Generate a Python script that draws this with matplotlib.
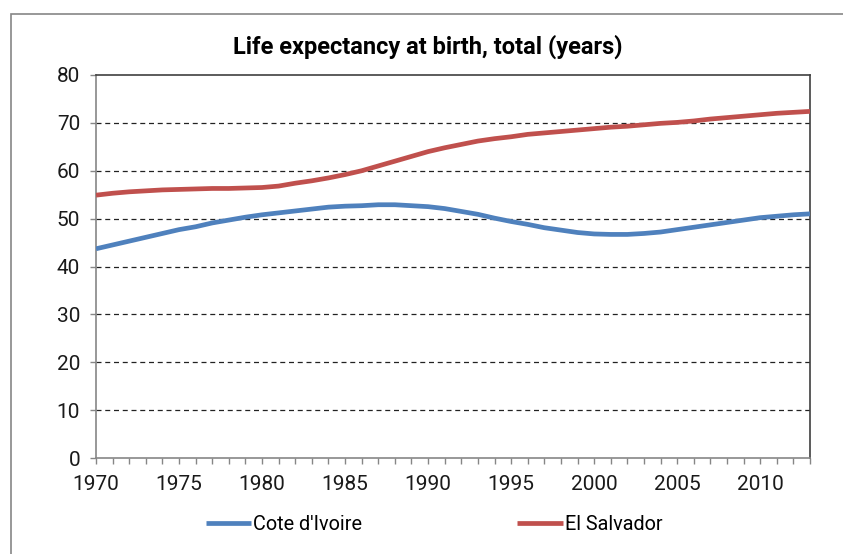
import numpy as np
import matplotlib
matplotlib.use("Agg")
import matplotlib.pyplot as plt
import matplotlib.ticker as ticker
from matplotlib.patches import Rectangle

# ── data ─────────────────────────────────────────────────────────────────────
years = list(range(1970, 2014))

cote_divoire = [
    43.7, 44.5, 45.3, 46.1, 46.9, 47.7, 48.3, 49.1, 49.7, 50.3,
    50.8, 51.2, 51.6, 52.0, 52.4, 52.6, 52.7, 52.9, 52.9, 52.7,
    52.5, 52.1, 51.5, 50.9, 50.1, 49.4, 48.8, 48.1, 47.6, 47.1,
    46.8, 46.7, 46.7, 46.9, 47.2, 47.7, 48.2, 48.7, 49.2, 49.7,
    50.2, 50.5, 50.8, 51.0,
]

el_salvador = [
    54.9, 55.3, 55.6, 55.8, 56.0, 56.1, 56.2, 56.3, 56.3, 56.4,
    56.5, 56.8, 57.4, 57.9, 58.5, 59.2, 60.0, 61.0, 62.0, 63.0,
    64.0, 64.8, 65.5, 66.2, 66.7, 67.1, 67.6, 67.9, 68.2, 68.5,
    68.8, 69.1, 69.3, 69.6, 69.9, 70.1, 70.4, 70.8, 71.1, 71.4,
    71.7, 72.0, 72.2, 72.4,
]

series_names = ["Cote d'Ivoire", "El Salvador"]
title = "Life expectancy at birth, total (years)"

# Excel 2007 default palette
COLORS = ["#4F81BD", "#C0504D"]
AXIS_GRAY = "#868686"

plt.rcParams["font.family"] = ["Roboto", "DejaVu Sans"]

fig = plt.figure(figsize=(8.43, 5.54), dpi=100)
fig.patch.set_facecolor("white")

# outer chart frame (cropped screenshot: only left/top edges visible)
fig.patches.append(Rectangle((11 / 843, -0.05), 1.0, 1 - 14 / 554 + 0.05,
                             transform=fig.transFigure, fill=False,
                             edgecolor=AXIS_GRAY, linewidth=1.2))

ax = fig.add_axes([96 / 843, 1 - 458 / 554, (810 - 96) / 843, (458 - 75) / 554])

for vals, name, col in zip([cote_divoire, el_salvador], series_names, COLORS):
    ax.plot(years, vals, color=col, linewidth=3.4, label=name,
            solid_capstyle="butt", zorder=3)

ax.set_xlim(1970, 2013)
ax.set_ylim(0, 80)

# dashed gridlines at 10..70 (80 is the frame)
for yv in range(10, 80, 10):
    ax.axhline(yv, color="#222222", linewidth=0.9, linestyle=(0, (4, 3)), zorder=1)

ax.yaxis.set_major_locator(ticker.MultipleLocator(10))
ax.xaxis.set_major_locator(ticker.FixedLocator(range(1970, 2014, 5)))
ax.xaxis.set_minor_locator(ticker.MultipleLocator(1))

ax.tick_params(axis="y", which="major", direction="out", length=4.5, width=1,
               color=AXIS_GRAY, labelsize=15, pad=7, labelcolor="#1a1a1a")
ax.tick_params(axis="x", which="both", direction="out", length=4, width=1,
               color=AXIS_GRAY, labelsize=15, pad=8, labelcolor="#1a1a1a")

ax.spines["left"].set_color(AXIS_GRAY)
ax.spines["bottom"].set_color(AXIS_GRAY)
ax.spines["top"].set_color("#404040")
ax.spines["right"].set_color("#404040")
for s in ax.spines.values():
    s.set_linewidth(1.2)

fig.text(428 / 843, 1 - 47 / 554, title, ha="center", va="center",
         fontsize=17, fontweight="bold", color="#000000")

fig.legend(loc="center", bbox_to_anchor=(434 / 843, 1 - 524 / 554), ncol=2,
           frameon=False, fontsize=14.3, handlelength=2.3, handletextpad=0.1,
           columnspacing=7.8)

fig.savefig("out.png", dpi=100, facecolor="white")
